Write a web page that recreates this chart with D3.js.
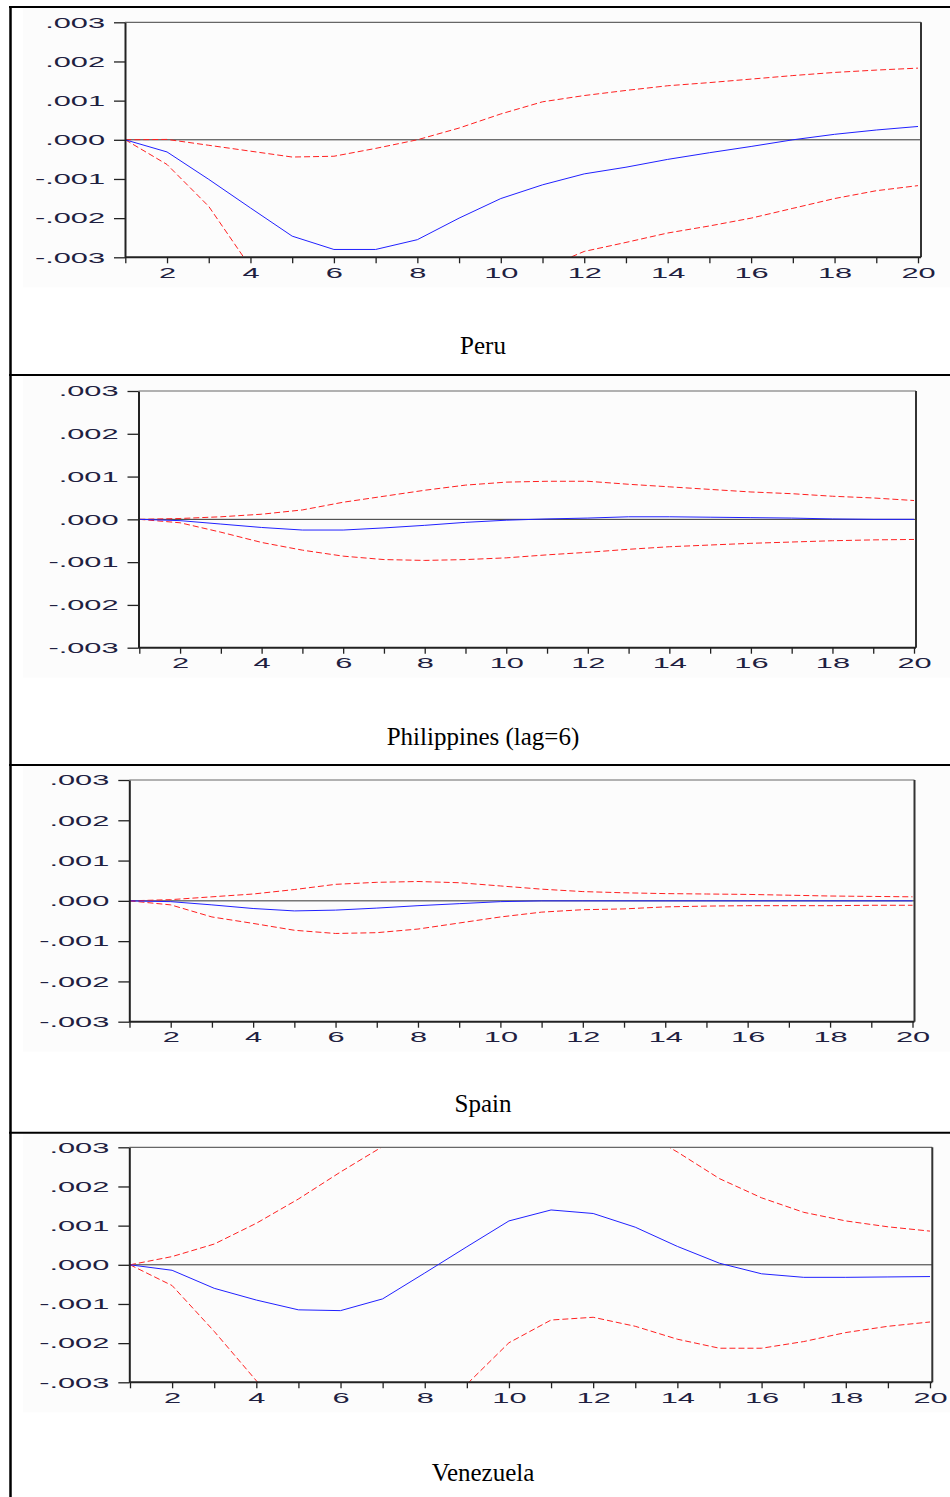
<!DOCTYPE html>
<html>
<head>
<meta charset="utf-8">
<script src="https://cdn.jsdelivr.net/npm/d3@7.9.0/dist/d3.min.js"></script>
<style>
  html, body { margin: 0; padding: 0; background: #fff; }
  svg { display: block; }
  .tick text { font-family: "Liberation Sans", Arial, sans-serif; font-size: 15px; fill: #202040; }
  .title { font-family: "Liberation Serif", "Times New Roman", serif; font-size: 25px; fill: #000; }
</style>
</head>
<body>
<div id="chart"></div>
<script>
// periods of the impulse response
const periods = [1, 2, 3, 4, 5, 6, 7, 8, 9, 10, 11, 12, 13, 14, 15, 16, 17, 18, 19, 20];
const xTickLabels = [2, 4, 6, 8, 10, 12, 14, 16, 18, 20];
const yTicks = [-0.003, -0.002, -0.001, 0, 0.001, 0.002, 0.003];

const titles = ['Peru', 'Philippines (lag=6)', 'Spain', 'Venezuela'];

// Peru
const peruResponse = [0, -0.00031, -0.00101, -0.00174, -0.00246, -0.0028, -0.0028, -0.00255, -0.002, -0.0015,
  -0.00115, -0.00087, -0.0007, -0.0005, -0.00033, -0.00017, 0, 0.00014, 0.00025, 0.00034];
const peruUpper = [0, 0.00001, -0.00014, -0.00029, -0.00044, -0.00042, -0.00022, 0, 0.0003, 0.00066,
  0.00097, 0.00113, 0.00126, 0.00138, 0.00146, 0.00155, 0.00164, 0.00172, 0.00178, 0.00183];
const peruLower = [0, -0.00063, -0.0017, -0.00325, -0.0042, -0.0048, -0.005, -0.0048, -0.0043, -0.0037,
  -0.0033, -0.00285, -0.00262, -0.00238, -0.0022, -0.002, -0.00175, -0.0015, -0.0013, -0.00117];

// Philippines
const philResponse = [0, -0.00003, -0.00011, -0.00019, -0.00025, -0.00025, -0.0002, -0.00014, -0.00007, -0.00002,
  0.00001, 0.00003, 0.00006, 0.00006, 0.00005, 0.00004, 0.00003, 0.00001, 0, 0];
const philUpper = [0, 0.00002, 0.00006, 0.00012, 0.00022, 0.0004, 0.00054, 0.00068, 0.0008, 0.00087,
  0.00089, 0.00089, 0.00082, 0.00076, 0.0007, 0.00064, 0.0006, 0.00054, 0.0005, 0.00044];
const philLower = [0, -0.00008, -0.0003, -0.00054, -0.00072, -0.00086, -0.00094, -0.00096, -0.00094, -0.0009,
  -0.00083, -0.00077, -0.0007, -0.00064, -0.0006, -0.00056, -0.00053, -0.0005, -0.00048, -0.00047];

// Spain
const spainResponse = [0, -0.00002, -0.0001, -0.00019, -0.00025, -0.00023, -0.00018, -0.00012, -0.00007, -0.00002,
  0, 0, 0, 0, 0, 0, 0, 0, 0, 0];
const spainUpper = [0, 0.00003, 0.0001, 0.00017, 0.00028, 0.00041, 0.00046, 0.00048, 0.00045, 0.00037,
  0.00029, 0.00023, 0.0002, 0.00018, 0.00017, 0.00016, 0.00014, 0.00012, 0.00011, 0.0001];
const spainLower = [0, -0.0001, -0.0004, -0.00056, -0.00073, -0.00081, -0.00079, -0.0007, -0.00055, -0.0004,
  -0.00028, -0.00022, -0.0002, -0.00015, -0.00013, -0.00012, -0.00012, -0.00012, -0.00011, -0.00011];

// Venezuela
const venResponse = [0, -0.00014, -0.0006, -0.0009, -0.00115, -0.00117, -0.00087, -0.00021, 0.00046, 0.00112,
  0.0014, 0.00131, 0.00096, 0.00047, 0.00004, -0.00023, -0.00032, -0.00032, -0.00031, -0.0003];
const venUpper = [0, 0.00021, 0.00053, 0.00106, 0.00168, 0.00237, 0.00302, 0.0037, 0.0043, 0.0047,
  0.0048, 0.0045, 0.0035, 0.00288, 0.0022, 0.00171, 0.00134, 0.00112, 0.00097, 0.00086];
const venLower = [0, -0.00053, -0.0017, -0.00296, -0.0042, -0.005, -0.0053, -0.0045, -0.00305, -0.00199,
  -0.00141, -0.00134, -0.00157, -0.0019, -0.00213, -0.00213, -0.00196, -0.00173, -0.00157, -0.00146];

const series = [
  { response: peruResponse, upper: peruUpper, lower: peruLower },
  { response: philResponse, upper: philUpper, lower: philLower },
  { response: spainResponse, upper: spainUpper, lower: spainLower },
  { response: venResponse, upper: venUpper, lower: venLower },
];

// where each panel sits on the page
const layout = [
  { left: 125, x1: 125.3, x20: 918, right: 921, top: 22.3, bottom: 257.3, labelGap: 20, titleY: 354 },
  { left: 138.5, x1: 139.3, x20: 914, right: 916, top: 391, bottom: 647.7, labelGap: 20, titleY: 745 },
  { left: 129.3, x1: 129.5, x20: 912.5, right: 914.5, top: 780, bottom: 1021.7, labelGap: 20, titleY: 1112 },
  { left: 129.3, x1: 130, x20: 930, right: 932.3, top: 1147.3, bottom: 1382.3, labelGap: 20, titleY: 1481 },
];
const rowLines = [7, 375, 765, 1132.7];

const width = 950;
const height = 1497;
const stretch = 2.05;

const yFormat = d => (d < 0 ? '-' : '') + d3.format('.3f')(Math.abs(d)).replace(/^0/, '');

const svg = d3.select('#chart')
  .append('svg')
  .attr('width', width)
  .attr('height', height);

series.forEach((s, i) => {
  const L = layout[i];
  const g = svg.append('g');

  // light backdrop of the pasted chart image
  g.append('rect')
    .attr('x', 23).attr('y', L.top - 15)
    .attr('width', width - 23).attr('height', L.bottom - L.top + 45)
    .attr('fill', '#fcfcfc');

  const xScale = d3.scaleLinear().domain([1, 20]).range([L.x1, L.x20]);
  const yScale = d3.scaleLinear().domain([-0.003, 0.003]).range([L.bottom, L.top]);

  const clipId = 'clip' + i;
  svg.append('clipPath').attr('id', clipId)
    .append('rect')
    .attr('x', L.left).attr('y', L.top)
    .attr('width', L.right - L.left).attr('height', L.bottom - L.top);

  // zero line
  g.append('line')
    .attr('x1', L.left).attr('x2', L.right)
    .attr('y1', yScale(0)).attr('y2', yScale(0))
    .attr('stroke', '#333').attr('stroke-width', 1);

  const line = d3.line()
    .x((d, j) => xScale(periods[j]))
    .y(d => yScale(d));

  const lines = g.append('g').attr('clip-path', `url(#${clipId})`);

  lines.append('path')
    .datum(s.upper)
    .attr('d', line)
    .attr('fill', 'none')
    .attr('stroke', '#ff2020')
    .attr('stroke-width', 1)
    .attr('stroke-dasharray', '6,3');

  lines.append('path')
    .datum(s.lower)
    .attr('d', line)
    .attr('fill', 'none')
    .attr('stroke', '#ff2020')
    .attr('stroke-width', 1)
    .attr('stroke-dasharray', '6,3');

  lines.append('path')
    .datum(s.response)
    .attr('d', line)
    .attr('fill', 'none')
    .attr('stroke', '#2020ff')
    .attr('stroke-width', 1);

  // frame: top and right
  g.append('line')
    .attr('x1', L.left).attr('x2', L.right)
    .attr('y1', L.top).attr('y2', L.top)
    .attr('stroke', '#666').attr('stroke-width', 1.2);
  g.append('line')
    .attr('x1', L.right).attr('x2', L.right)
    .attr('y1', L.top).attr('y2', L.bottom)
    .attr('stroke', '#333').attr('stroke-width', 2);

  // Y axis
  const yAxis = g.append('g')
    .attr('transform', `translate(${L.left}, 0)`)
    .call(d3.axisLeft(yScale).tickValues(yTicks).tickFormat(yFormat).tickSize(11).tickSizeOuter(0));
  yAxis.select('.domain').attr('stroke', '#222').attr('stroke-width', 2);
  yAxis.selectAll('.tick line').attr('stroke', '#222').attr('stroke-width', 1.3);
  yAxis.selectAll('.tick text')
    .attr('x', null)
    .attr('transform', `translate(${-L.labelGap}, 0) scale(${stretch}, 1)`);

  // X axis
  const xAxis = g.append('g')
    .attr('transform', `translate(0, ${L.bottom})`)
    .call(d3.axisBottom(xScale)
      .tickValues(periods)
      .tickFormat(d => xTickLabels.includes(d) ? d : '')
      .tickSize(6)
      .tickSizeOuter(0));
  xAxis.select('.domain')
    .attr('d', `M${L.left},0H${L.right}`)
    .attr('stroke', '#222').attr('stroke-width', 2);
  xAxis.selectAll('.tick line').attr('stroke', '#222').attr('stroke-width', 1.3);
  xAxis.selectAll('.tick text')
    .attr('y', null)
    .attr('dy', '0.36em')
    .attr('transform', `translate(0, 15) scale(${stretch}, 1)`);

  // title
  svg.append('text')
    .attr('class', 'title')
    .attr('x', 483)
    .attr('y', L.titleY)
    .attr('text-anchor', 'middle')
    .text(titles[i]);
});

// table rules
svg.append('g')
  .selectAll('line')
  .data(rowLines)
  .join('line')
  .attr('x1', 9).attr('x2', width)
  .attr('y1', d => d).attr('y2', d => d)
  .attr('stroke', '#000').attr('stroke-width', 2);

svg.append('line')
  .attr('x1', 10.5).attr('x2', 10.5)
  .attr('y1', 6).attr('y2', height)
  .attr('stroke', '#000').attr('stroke-width', 2.5);
</script>
</body>
</html>
